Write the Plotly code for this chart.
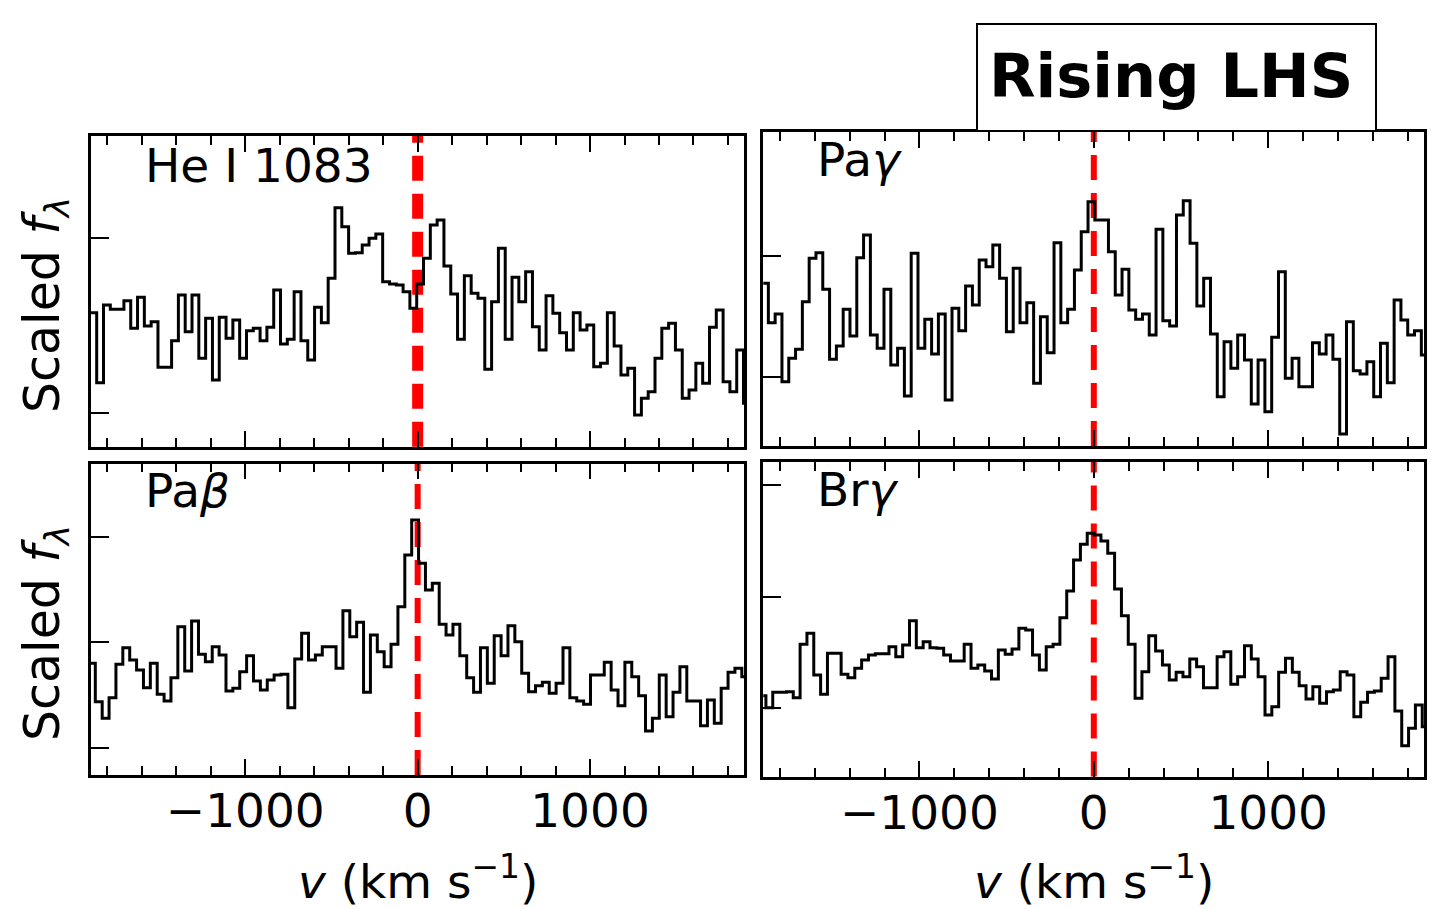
import plotly.graph_objects as go

W, H = 1440, 909
FONT = "DejaVu Sans"

# ---------------------------------------------------------------------------
# Spectra: velocity bin edges (km/s) and scaled flux in each bin
# ---------------------------------------------------------------------------
hei_edges = [
    -1901.5, -1862, -1822.5, -1783, -1743.5, -1704, -1664.5, -1625, -1585.5, -1546,
    -1506.5, -1467, -1427.5, -1388, -1348.5, -1309, -1269.5, -1230, -1190.5, -1151,
    -1111.5, -1072, -1032.5, -993, -953.5, -914, -874.5, -835, -795.5, -756,
    -716.5, -677, -637.5, -598, -558.5, -519, -479.5, -440, -400.5, -361,
    -321.5, -282, -242.5, -203, -163.5, -124, -84.5, -45, -5.5, 34,
    73.5, 113, 152.5, 192, 231.5, 271, 310.5, 350, 389.5, 429,
    468.5, 508, 547.5, 587, 626.5, 666, 705.5, 745, 784.5, 824,
    863.5, 903, 942.5, 982, 1021.5, 1061, 1100.5, 1140, 1179.5, 1219,
    1258.5, 1298, 1337.5, 1377, 1416.5, 1456, 1495.5, 1535, 1574.5, 1614,
    1653.5, 1693, 1732.5, 1772, 1811.5, 1851, 1890.5, 1930,
]
hei_flux = [
    4.52, 2.42, 4.75, 4.62, 4.62, 4.88, 4.05, 4.98, 4.12, 4.25,
    2.88, 2.88, 3.68, 5.05, 3.95, 5.05, 3.15, 4.35, 2.50, 4.38,
    3.75, 4.30, 3.15, 3.98, 4.05, 3.68, 4.08, 5.20, 3.58, 3.72,
    5.15, 3.68, 3.10, 4.68, 4.22, 5.55, 7.67, 7.10, 6.30, 6.32,
    6.55, 6.75, 6.88, 5.45, 5.38, 5.35, 5.15, 4.65, 5.38, 6.15,
    7.15, 7.30, 5.92, 5.08, 3.72, 5.63, 5.10, 4.95, 2.82, 4.85,
    6.45, 3.72, 5.58, 4.85, 5.75, 4.10, 3.40, 5.03, 4.50, 3.92,
    3.40, 4.52, 4.00, 4.15, 2.90, 3.00, 4.52, 3.52, 2.65, 2.85,
    1.45, 1.95, 2.15, 3.15, 4.05, 4.20, 3.40, 1.95, 2.20, 3.00,
    2.40, 4.08, 4.60, 2.45, 2.15, 3.40, 1.80,
]

pag_edges = [
    -1905, -1866, -1827, -1788, -1749, -1710, -1671, -1632, -1593, -1554,
    -1515, -1476, -1437, -1398, -1359, -1320, -1281, -1242, -1203, -1164,
    -1125, -1086, -1047, -1008, -969, -930, -891, -852, -813, -774,
    -735, -696, -657, -618, -579, -540, -501, -462, -423, -384,
    -345, -306, -267, -228, -189, -150, -111, -72, -33, 6,
    45, 84, 123, 162, 201, 240, 279, 318, 357, 396,
    435, 474, 513, 552, 591, 630, 669, 708, 747, 786,
    825, 864, 903, 942, 981, 1020, 1059, 1098, 1137, 1176,
    1215, 1254, 1293, 1332, 1371, 1410, 1449, 1488, 1527, 1566,
    1605, 1644, 1683, 1722, 1761, 1800, 1839, 1878, 1917,
]
pag_flux = [
    5.40, 4.22, 4.48, 2.45, 3.15, 3.42, 4.85, 6.15, 6.32, 5.22,
    3.12, 3.52, 4.62, 3.82, 6.17, 6.85, 3.85, 3.45, 5.22, 2.95,
    3.45, 2.02, 6.30, 3.45, 4.32, 3.28, 4.48, 1.90, 4.65, 3.98,
    5.32, 4.75, 6.10, 5.90, 6.55, 5.55, 3.95, 5.85, 4.22, 4.82,
    2.40, 4.40, 3.32, 6.62, 4.22, 4.62, 5.80, 6.95, 7.85, 7.30,
    7.30, 6.35, 5.05, 5.82, 4.60, 4.32, 4.48, 3.85, 7.02, 4.28,
    4.12, 7.45, 7.88, 6.60, 4.72, 5.55, 3.88, 2.00, 3.65, 2.85,
    3.85, 3.10, 1.78, 3.10, 1.55, 3.78, 5.75, 2.55, 3.15, 2.30,
    2.30, 3.62, 3.28, 3.85, 3.12, 0.88, 4.25, 2.78, 2.68, 3.05,
    2.00, 3.60, 2.42, 4.90, 4.30, 3.85, 3.98, 3.25,
]

pab_edges = [
    -1909.9, -1870, -1830.1, -1790.2, -1750.3, -1710.4, -1670.5, -1630.6, -1590.7, -1550.8,
    -1510.9, -1471, -1431.1, -1391.2, -1351.3, -1311.4, -1271.5, -1231.6, -1191.7, -1151.8,
    -1111.9, -1072, -1032.1, -992.2, -952.3, -912.4, -872.5, -832.6, -792.7, -752.8,
    -712.9, -673, -633.1, -593.2, -553.3, -513.4, -473.5, -433.6, -393.7, -353.8,
    -313.9, -274, -234.1, -194.2, -154.3, -114.4, -74.5, -34.6, 5.3, 45.2,
    85.1, 125, 164.9, 204.8, 244.7, 284.6, 324.5, 364.4, 404.3, 444.2,
    484.1, 524, 563.9, 603.8, 643.7, 683.6, 723.5, 763.4, 803.3, 843.2,
    883.1, 923, 962.9, 1002.8, 1042.7, 1082.6, 1122.5, 1162.4, 1202.3, 1242.2,
    1282.1, 1322, 1361.9, 1401.8, 1441.7, 1481.6, 1521.5, 1561.4, 1601.3, 1641.2,
    1681.1, 1721, 1760.9, 1800.8, 1840.7, 1880.6, 1920.5,
]
pab_flux = [
    3.75, 2.60, 2.10, 2.72, 3.72, 4.22, 3.85, 3.55, 3.02, 3.75,
    2.82, 2.62, 3.32, 4.85, 3.52, 5.02, 4.02, 3.80, 4.25, 4.00,
    2.92, 3.00, 3.50, 3.98, 3.22, 2.95, 3.25, 3.40, 3.42, 2.42,
    3.88, 4.65, 3.85, 4.00, 4.25, 4.25, 3.60, 5.33, 4.55, 4.98,
    2.88, 4.60, 4.10, 3.65, 4.32, 5.45, 7.00, 8.05, 6.75, 5.95,
    6.15, 4.92, 4.60, 4.92, 3.98, 3.32, 2.88, 4.22, 3.15, 4.58,
    3.98, 4.88, 4.40, 3.45, 2.90, 3.08, 3.18, 2.85, 3.15, 4.22,
    2.72, 2.62, 2.52, 3.40, 3.40, 3.78, 2.95, 2.48, 3.78, 3.35,
    2.78, 1.72, 2.10, 3.40, 2.15, 2.88, 3.65, 2.62, 2.62, 1.88,
    2.65, 1.95, 3.00, 3.48, 3.60, 3.35,
]

brg_edges = [
    -1919.2, -1880, -1840.8, -1801.6, -1762.4, -1723.2, -1684, -1644.8, -1605.6, -1566.4,
    -1527.2, -1488, -1448.8, -1409.6, -1370.4, -1331.2, -1292, -1252.8, -1213.6, -1174.4,
    -1135.2, -1096, -1056.8, -1017.6, -978.4, -939.2, -900, -860.8, -821.6, -782.4,
    -743.2, -704, -664.8, -625.6, -586.4, -547.2, -508, -468.8, -429.6, -390.4,
    -351.2, -312, -272.8, -233.6, -194.4, -155.2, -116, -76.8, -37.6, 1.6,
    40.8, 80, 119.2, 158.4, 197.6, 236.8, 276, 315.2, 354.4, 393.6,
    432.8, 472, 511.2, 550.4, 589.6, 628.8, 668, 707.2, 746.4, 785.6,
    824.8, 864, 903.2, 942.4, 981.6, 1020.8, 1060, 1099.2, 1138.4, 1177.6,
    1216.8, 1256, 1295.2, 1334.4, 1373.6, 1412.8, 1452, 1491.2, 1530.4, 1569.6,
    1608.8, 1648, 1687.2, 1726.4, 1765.6, 1804.8, 1844, 1883.2, 1922.4,
]
brg_flux = [
    2.78, 2.42, 2.88, 2.88, 2.90, 2.72, 4.32, 4.65, 3.40, 2.82,
    4.05, 4.05, 3.42, 3.32, 3.60, 3.85, 4.00, 4.04, 4.04, 4.25,
    3.95, 4.30, 5.03, 4.22, 4.40, 4.22, 4.20, 4.00, 3.82, 3.82,
    4.32, 3.60, 3.70, 3.52, 3.28, 4.15, 4.02, 4.18, 4.80, 4.75,
    4.00, 3.55, 4.25, 4.32, 5.12, 5.92, 6.85, 7.32, 7.65, 7.60,
    7.42, 7.05, 5.98, 5.18, 4.32, 2.70, 3.50, 4.58, 4.12, 3.70,
    3.25, 3.48, 3.35, 3.88, 3.65, 3.02, 3.02, 3.95, 4.10, 3.12,
    3.35, 4.28, 3.88, 3.35, 2.20, 2.45, 3.48, 3.90, 3.48, 3.08,
    2.68, 3.05, 2.55, 2.90, 2.95, 3.50, 3.40, 2.15, 2.58, 2.88,
    2.92, 3.30, 3.95, 2.32, 1.28, 1.80, 2.50, 1.85,
]

# y-axis tick positions and ranges (scaled flux units)
hei_yticks, hei_yrange = [1.52, 6.77], [0.50, 9.82]
pag_yticks, pag_yrange = [2.58, 6.22], [0.52, 9.94]
pab_yticks, pab_yrange = [1.22, 4.38, 7.55], [0.40, 9.745]
brg_yticks, brg_yrange = [2.40, 5.75, 9.10], [0.355, 9.79]

v_range = [-1895, 1895]
line_labels = ["He I 1083", "Pa<i>γ</i>", "Pa<i>β</i>", "Br<i>γ</i>"]
title_text = "<b>Rising LHS</b>"
x_title = "<i>v</i> (km s<sup>−1</sup>)"
y_title = "Scaled <i>f</i><sub><i>λ</i></sub>"


def px_x(p):
    return p / W


def px_y(p):
    return 1 - p / H


# panel geometry in pixels: (x0, x1, ytop, ybottom)
panels = [
    dict(edges=hei_edges, flux=hei_flux, yticks=hei_yticks, yrange=hei_yrange,
         box=(91, 744.3, 136, 446.7), label=line_labels[0], lab=(143.2, 165.5),
         bottom=False, vwidth=11),
    dict(edges=pag_edges, flux=pag_flux, yticks=pag_yticks, yrange=pag_yrange,
         box=(763.3, 1424.3, 132, 446), label=line_labels[1], lab=(814.8, 159.5),
         bottom=False, vwidth=6),
    dict(edges=pab_edges, flux=pab_flux, yticks=pab_yticks, yrange=pab_yrange,
         box=(91, 744.3, 463.5, 775), label=line_labels[2], lab=(143.2, 490.2),
         bottom=True, vwidth=6),
    dict(edges=brg_edges, flux=brg_flux, yticks=brg_yticks, yrange=brg_yrange,
         box=(763.3, 1424.3, 462, 776.5), label=line_labels[3], lab=(814.8, 489.2),
         bottom=True, vwidth=6),
]

fig = go.Figure()
layout = dict(
    width=W, height=H,
    margin=dict(l=0, r=0, t=0, b=0),
    paper_bgcolor="white", plot_bgcolor="white",
    showlegend=False,
    font=dict(family=FONT, color="black"),
)
shapes, annotations = [], []

for i, p in enumerate(panels, start=1):
    xn = "x" if i == 1 else f"x{i}"
    yn = "y" if i == 1 else f"y{i}"
    xk = "xaxis" if i == 1 else f"xaxis{i}"
    yk = "yaxis" if i == 1 else f"yaxis{i}"
    x0, x1, yt, yb = p["box"]

    # histogram-style spectrum
    fig.add_trace(go.Scatter(
        x=p["edges"], y=p["flux"] + [p["flux"][-1]],
        xaxis=xn, yaxis=yn, mode="lines",
        line=dict(shape="hv", color="black", width=3.0),
        hoverinfo="skip",
    ))

    layout[xk] = dict(
        domain=[px_x(x0), px_x(x1)], anchor=yn, range=v_range,
        showline=True, linecolor="black", linewidth=2.5, mirror="ticks",
        ticks="inside", ticklen=16, tickwidth=2, tickcolor="black",
        tick0=0, dtick=1000,
        minor=dict(ticks="inside", ticklen=9, tickwidth=2, tickcolor="black",
                   tick0=0, dtick=200, showgrid=False),
        showgrid=False, zeroline=False,
        showticklabels=p["bottom"], ticklabelstandoff=-7,
        tickfont=dict(family=FONT, size=47, color="black"),
    )
    layout[yk] = dict(
        domain=[px_y(yb), px_y(yt)], anchor=xn, range=p["yrange"],
        showline=True, linecolor="black", linewidth=2.5, mirror=True,
        ticks="inside", ticklen=18, tickwidth=2, tickcolor="black",
        tickmode="array", tickvals=p["yticks"],
        showticklabels=False, showgrid=False, zeroline=False,
    )

    # rest-velocity marker
    shapes.append(dict(
        type="line", xref=xn, yref=f"{yn} domain",
        x0=0, x1=0, y0=0, y1=1, layer="below",
        line=dict(color="#ff0000", width=p["vwidth"], dash="25px,13px"),
    ))

    annotations.append(dict(
        text=p["label"], xref="paper", yref="paper",
        x=px_x(p["lab"][0]), y=px_y(p["lab"][1]),
        xanchor="left", yanchor="middle", showarrow=False,
        font=dict(family=FONT, size=47, color="black"),
    ))

# axis titles
for xc in (417.5, 1094):
    annotations.append(dict(
        text=x_title, xref="paper", yref="paper",
        x=px_x(xc), y=px_y(877.5), xanchor="center", yanchor="middle",
        showarrow=False, font=dict(family=FONT, size=47, color="black"),
    ))
for yc in (305.0, 633.0):
    annotations.append(dict(
        text=y_title, xref="paper", yref="paper",
        x=px_x(45), y=px_y(yc), xanchor="center", yanchor="middle",
        textangle=-90, showarrow=False,
        font=dict(family=FONT, size=49, color="black"),
    ))

# boxed state label
shapes.append(dict(
    type="rect", xref="paper", yref="paper",
    x0=px_x(977), x1=px_x(1376), y0=px_y(131), y1=px_y(24),
    line=dict(color="black", width=2), fillcolor="white", layer="above",
))
annotations.append(dict(
    text=title_text, xref="paper", yref="paper",
    x=px_x(1171), y=px_y(76), xanchor="center", yanchor="middle",
    showarrow=False, font=dict(family=FONT, size=60.5, color="black"),
))

layout["shapes"] = shapes
layout["annotations"] = annotations
fig.update_layout(**layout)
fig.write_html("out.html")
